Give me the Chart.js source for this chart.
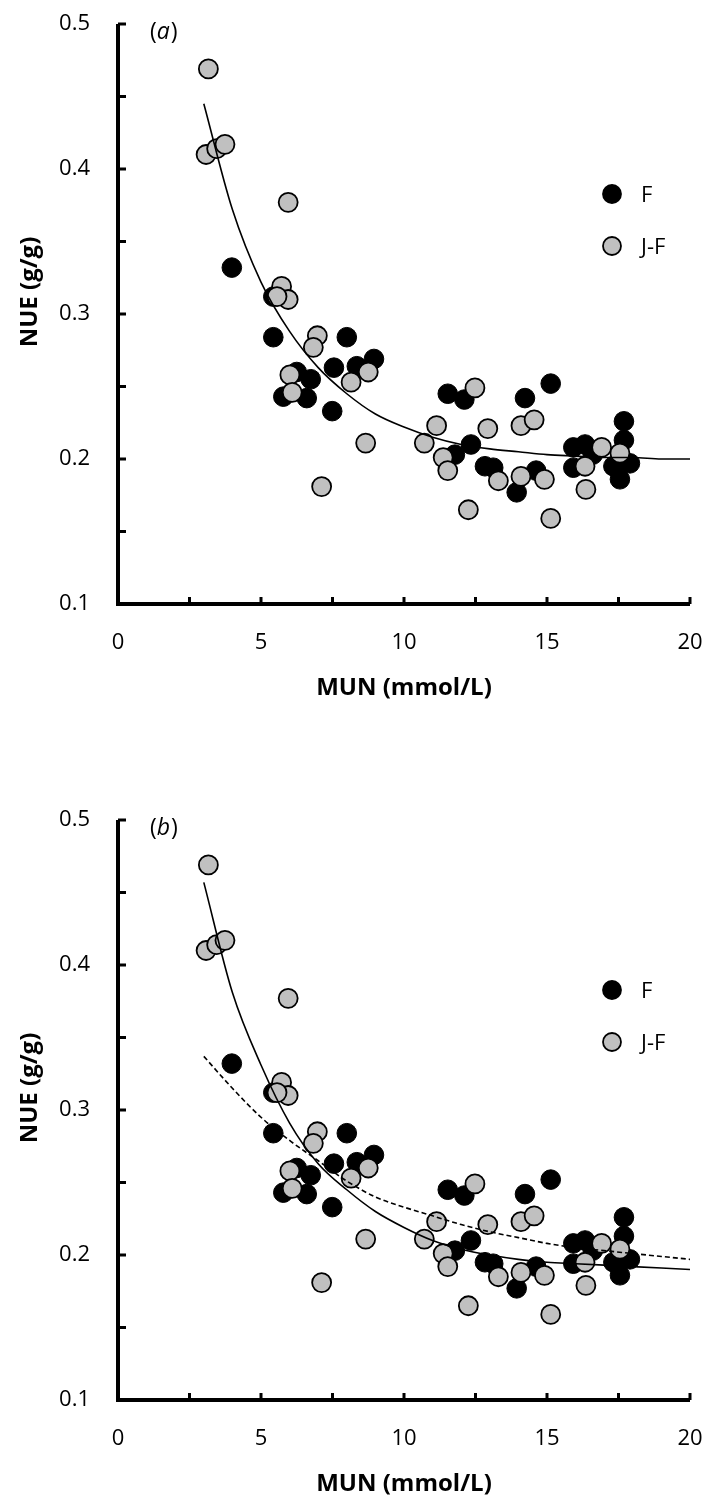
<!DOCTYPE html>
<html>
<head>
<meta charset="utf-8">
<title>NUE vs MUN</title>
<script src="https://cdn.jsdelivr.net/npm/chart.js@4.4.0/dist/chart.umd.min.js"></script>
<style>
  html, body { margin: 0; padding: 0; background: #fff; overflow: hidden; }
  canvas { position: absolute; left: 0; }
  #chartA { top: 0; }
  #chartB { top: 796px; }
</style>
</head>
<body>
<canvas id="chartA" width="707" height="704"></canvas>
<canvas id="chartB" width="707" height="704"></canvas>
<script>
// F cows (black)
const fMun = [3.98, 5.43, 5.43, 8.00, 6.25, 6.74, 7.55, 8.35, 8.95, 5.78, 6.60, 7.49,
              11.53, 12.11, 14.23, 15.13, 12.34, 11.78, 12.83, 13.12, 14.62, 13.94,
              15.92, 16.33, 15.92, 16.60, 17.69, 17.69, 17.32, 17.90, 17.55];
const fNue = [0.332, 0.312, 0.284, 0.284, 0.260, 0.255, 0.263, 0.264, 0.269, 0.243, 0.242, 0.233,
              0.245, 0.241, 0.242, 0.252, 0.210, 0.203, 0.195, 0.194, 0.192, 0.177,
              0.208, 0.210, 0.194, 0.203, 0.226, 0.213, 0.195, 0.197, 0.186];

// J-F cows (grey)
const jfMun = [3.16, 3.08, 3.45, 3.74, 5.95, 5.72, 5.95, 5.56, 6.97, 6.83, 6.01, 8.75,
               8.15, 6.09, 8.66, 7.12, 10.71, 12.48, 11.14, 12.93, 14.09, 14.55,
               11.37, 11.53, 13.30, 14.09, 14.91, 12.25, 15.13, 16.33, 16.91, 16.36, 17.55];
const jfNue = [0.469, 0.410, 0.414, 0.417, 0.377, 0.319, 0.310, 0.312, 0.285, 0.277, 0.258, 0.260,
               0.253, 0.246, 0.211, 0.181, 0.211, 0.249, 0.223, 0.221, 0.223, 0.227,
               0.201, 0.192, 0.185, 0.188, 0.186, 0.165, 0.159, 0.195, 0.208, 0.179, 0.204];

// fitted curves
const fitMun = [3, 4, 5, 6, 7, 8, 9, 10, 11, 12, 13, 14, 15, 16, 17, 18, 19, 20];
const fitA = [0.445, 0.372, 0.322, 0.288, 0.263, 0.245, 0.231, 0.222, 0.215, 0.210,
              0.207, 0.205, 0.203, 0.202, 0.201, 0.201, 0.200, 0.200];
const fitB = [0.457, 0.381, 0.331, 0.291, 0.263, 0.245, 0.230, 0.219, 0.210, 0.204,
              0.200, 0.197, 0.195, 0.194, 0.193, 0.192, 0.191, 0.190];
const fitBdash = [0.337, 0.315, 0.295, 0.279, 0.265, 0.251, 0.240, 0.233, 0.227, 0.221,
                  0.216, 0.212, 0.208, 0.205, 0.203, 0.201, 0.199, 0.197];

const xMajor = [0, 5, 10, 15, 20];
const yMajor = [0.1, 0.2, 0.3, 0.4, 0.5];

const FONT = '"Open Sans", "DejaVu Sans", sans-serif';
const GREY = '#c0c0c0';

function pts(xs, ys) {
    return xs.map((v, i) => ({ x: v, y: ys[i] }));
}
function isMajor(list, v) {
    return list.some(m => Math.abs(m - v) < 1e-6);
}

// axis lines with inward ticks, legend, panel letter, y title
const decor = {
    id: 'decor',
    afterDraw(chart, args, opts) {
        const { ctx, chartArea, scales: { x, y } } = chart;
        const x0 = x.getPixelForValue(0), x1 = x.getPixelForValue(20);
        const y0 = y.getPixelForValue(0.1), y1 = y.getPixelForValue(0.5);
        ctx.save();
        ctx.strokeStyle = '#000';
        ctx.lineWidth = 4;
        ctx.lineJoin = 'miter';
        ctx.beginPath();
        ctx.moveTo(x0, y1);
        ctx.lineTo(x0, y0);
        ctx.lineTo(x1, y0);
        ctx.stroke();

        ctx.lineWidth = 3;
        ctx.beginPath();
        y.ticks.forEach(t => {
            const p = y.getPixelForValue(t.value);
            ctx.moveTo(x0, p);
            ctx.lineTo(x0 + 8, p);
        });
        x.ticks.forEach(t => {
            const p = x.getPixelForValue(t.value);
            ctx.moveTo(p, y0);
            ctx.lineTo(p, y0 - 7);
        });
        ctx.stroke();

        // panel letter
        ctx.fillStyle = '#000';
        ctx.textBaseline = 'middle';
        ctx.textAlign = 'left';
        let lx = chartArea.left + 32;
        const ly = chartArea.top + 8;
        ctx.font = '23px ' + FONT;
        ctx.fillText('(', lx, ly);
        lx += ctx.measureText('(').width;
        ctx.font = 'italic 23px ' + FONT;
        ctx.fillText(opts.letter, lx, ly);
        lx += ctx.measureText(opts.letter).width + 1;
        ctx.font = '23px ' + FONT;
        ctx.fillText(')', lx, ly);

        // legend
        const legendItems = [
            { label: 'F', fill: '#000' },
            { label: 'J-F', fill: GREY }
        ];
        const cx = chartArea.right - 78;
        legendItems.forEach((it, i) => {
            const cy = chartArea.top + 170 + i * 52;
            ctx.beginPath();
            ctx.arc(cx, cy, 9, 0, Math.PI * 2);
            ctx.fillStyle = it.fill;
            ctx.fill();
            ctx.lineWidth = 1.8;
            ctx.strokeStyle = '#000';
            ctx.stroke();
            ctx.fillStyle = '#000';
            ctx.font = '22px ' + FONT;
            ctx.fillText(it.label, cx + 29, cy + 2);
        });

        // y axis title
        ctx.save();
        ctx.translate(30, (chartArea.top + chartArea.bottom) / 2 - 22);
        ctx.rotate(-Math.PI / 2);
        ctx.textAlign = 'center';
        ctx.font = 'bold 24px ' + FONT;
        ctx.fillText('NUE (g/g)', 0, 0);
        ctx.restore();

        ctx.restore();
    }
};

function makeChart(id, letter, curves) {
    const lineSets = curves.map(c => ({
        type: 'scatter',
        data: pts(fitMun, c.values),
        showLine: true,
        borderColor: '#000',
        borderWidth: 1.6,
        borderDash: c.dash || [],
        pointRadius: 0,
        cubicInterpolationMode: 'monotone',
        fill: false,
        clip: false
    }));

    return new Chart(document.getElementById(id).getContext('2d'), {
        type: 'scatter',
        data: {
            datasets: lineSets.concat([
                {
                    label: 'J-F',
                    data: pts(jfMun, jfNue),
                    backgroundColor: GREY,
                    borderColor: '#000',
                    borderWidth: 1.8,
                    pointRadius: 9.5,
                    clip: false
                },
                {
                    label: 'F',
                    data: pts(fMun, fNue),
                    backgroundColor: '#000',
                    borderColor: '#000',
                    borderWidth: 1,
                    pointRadius: 9.8,
                    clip: false
                }
            ])
        },
        options: {
            responsive: false,
            animation: false,
            devicePixelRatio: 1,
            events: [],
            layout: { autoPadding: false, padding: { top: 24, right: 17, left: 0, bottom: 0 } },
            plugins: {
                legend: { display: false },
                tooltip: { enabled: false },
                decor: { letter: letter }
            },
            scales: {
                x: {
                    type: 'linear',
                    min: 0,
                    max: 20,
                    afterFit: s => { s.height = 100; s.paddingLeft = 0; s.paddingRight = 0; },
                    grid: { display: false, drawTicks: false },
                    border: { display: false },
                    ticks: {
                        stepSize: 2.5,
                        autoSkip: false,
                        maxRotation: 0,
                        padding: 26,
                        color: '#000',
                        font: { family: FONT, size: 22 },
                        callback: v => isMajor(xMajor, v) ? String(v) : ''
                    },
                    title: {
                        display: true,
                        text: 'MUN (mmol/L)',
                        color: '#000',
                        font: { family: FONT, size: 24, weight: 'bold', lineHeight: 1 },
                        padding: { top: 0, bottom: 4 }
                    }
                },
                y: {
                    type: 'linear',
                    min: 0.1,
                    max: 0.5,
                    afterFit: s => { s.width = 118; s.paddingTop = 0; s.paddingBottom = 0; },
                    grid: { display: false, drawTicks: false },
                    border: { display: false },
                    ticks: {
                        stepSize: 0.05,
                        autoSkip: false,
                        padding: 28,
                        color: '#000',
                        font: { family: FONT, size: 22 },
                        callback: v => isMajor(yMajor, v) ? v.toFixed(1) : ''
                    }
                }
            }
        },
        plugins: [decor]
    });
}

makeChart('chartA', 'a', [{ values: fitA }]);
makeChart('chartB', 'b', [{ values: fitB }, { values: fitBdash, dash: [5, 3] }]);
</script>
</body>
</html>
